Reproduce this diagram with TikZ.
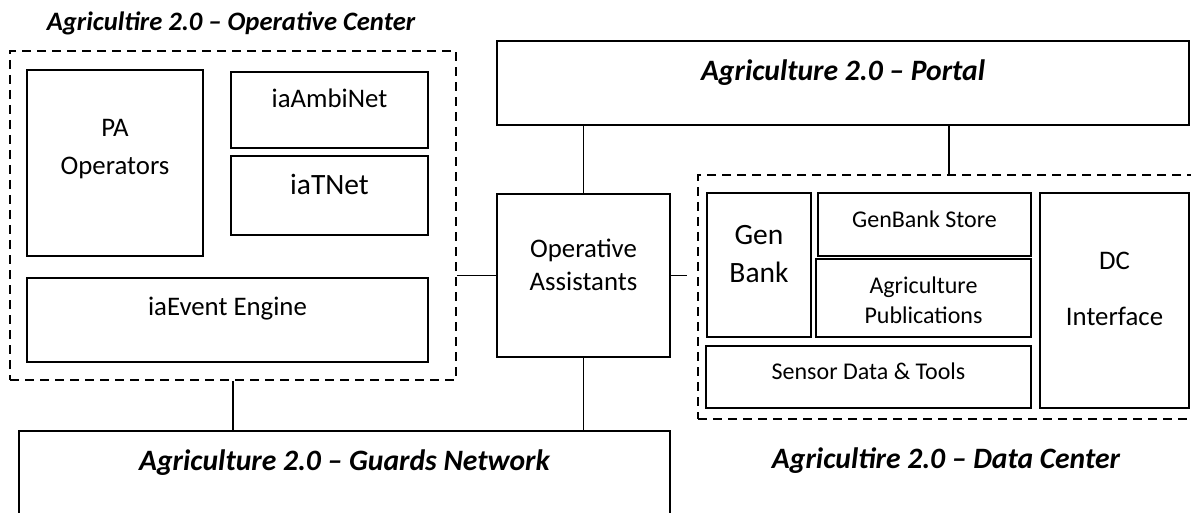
\documentclass[tikz,border=0pt]{standalone}
\usepackage{fontspec}
\setmainfont{Carlito}
\begin{document}
\begin{tikzpicture}[x=1pt,y=-1pt,
  box/.style={draw, line width=2.6pt, inner sep=0pt, rectangle},
  group/.style={draw, line width=2.6pt, inner sep=0pt, rectangle, dash pattern=on 9pt off 6pt},
  link/.style={line width=1.3pt},
  lbl/.style={anchor=base, inner sep=0pt, align=center},
  title/.style={lbl, font=\fontsize{29.6}{35}\bfseries\itshape\selectfont},
  txt/.style={lbl, font=\fontsize{26.8}{38}\selectfont},
  big/.style={lbl, font=\fontsize{29.5}{38}\selectfont},
  small/.style={lbl, font=\fontsize{24}{30}\selectfont}]
\useasboundingbox (0,0) rectangle (1191,513);

% operative center
\node[group, minimum width=446pt, minimum height=329pt] (oc) at (233,215.5) {};
\node[title, font=\fontsize{26.6}{32}\bfseries\itshape\selectfont] (oct) at (231,31) {Agricultire 2.0 -- Operative Center};
\node[box, minimum width=176pt, minimum height=186pt] (pa) at (115,163) {};
\node[txt] (pat) at (115,175) {PA\\Operators};
\node[box, minimum width=197pt, minimum height=76pt] (ambi) at (329.5,110) {};
\node[txt] (ambit) at (329.5,108) {iaAmbiNet};
\node[box, minimum width=197pt, minimum height=79pt] (tnet) at (329.5,195.5) {};
\node[big] (tnett) at (329.5,195) {iaTNet};
\node[box, minimum width=401pt, minimum height=84pt] (event) at (227.5,320) {};
\node[txt] (eventt) at (227.5,315) {iaEvent Engine};

% portal
\node[box, minimum width=692pt, minimum height=84pt] (portal) at (843,83) {};
\node[title] (portalt) at (843,81) {Agriculture 2.0 -- Portal};

% operative assistants
\node[box, minimum width=173pt, minimum height=163pt] (oa) at (583.5,275.5) {};
\node[txt, font=\fontsize{26.8}{33}\selectfont] (oat) at (583.5,290) {Operative\\Assistants};

% data center
\node[group, minimum width=502pt, minimum height=244pt] (dc) at (949,297) {};
\node[title] (dct) at (946,468) {Agricultire 2.0 -- Data Center};
\node[box, minimum width=104pt, minimum height=144pt] (gen) at (759,265) {};
\node[big] (gent) at (759,282) {Gen\\Bank};
\node[box, minimum width=213pt, minimum height=63pt] (store) at (924.5,224.5) {};
\node[small] (storet) at (924.5,227) {GenBank Store};
\node[box, minimum width=215pt, minimum height=78pt] (pub) at (923.5,298) {};
\node[small] (pubt) at (923.5,323) {Agriculture\\Publications};
\node[box, minimum width=325pt, minimum height=62pt] (sensor) at (868.5,377) {};
\node[small] (sensort) at (868.5,379) {Sensor Data \& Tools};
\node[box, minimum width=149pt, minimum height=215pt] (dci) at (1114.5,300.5) {};
\node[txt, font=\fontsize{26.8}{56}\selectfont] (dcit) at (1114.5,325) {DC\\Interface};

% guards network
\node[box, minimum width=651pt, minimum height=109pt] (guards) at (344.5,485.5) {};
\node[title] (guardst) at (344.5,470) {Agriculture 2.0 -- Guards Network};

% connectors
\draw[link] (oa.north) -- (oa.north |- portal.south);
\draw[link] (dc.north) -- (dc.north |- portal.south);
\draw[link] (oa.west) -- (oa.west -| oc.east);
\draw[link, shorten >=10pt] (oa.east) -- (oa.east -| dc.west);
\draw[link] (oc.south) -- (oc.south |- guards.north);
\draw[link] (oa.south) -- (oa.south |- guards.north);
\end{tikzpicture}
\end{document}
